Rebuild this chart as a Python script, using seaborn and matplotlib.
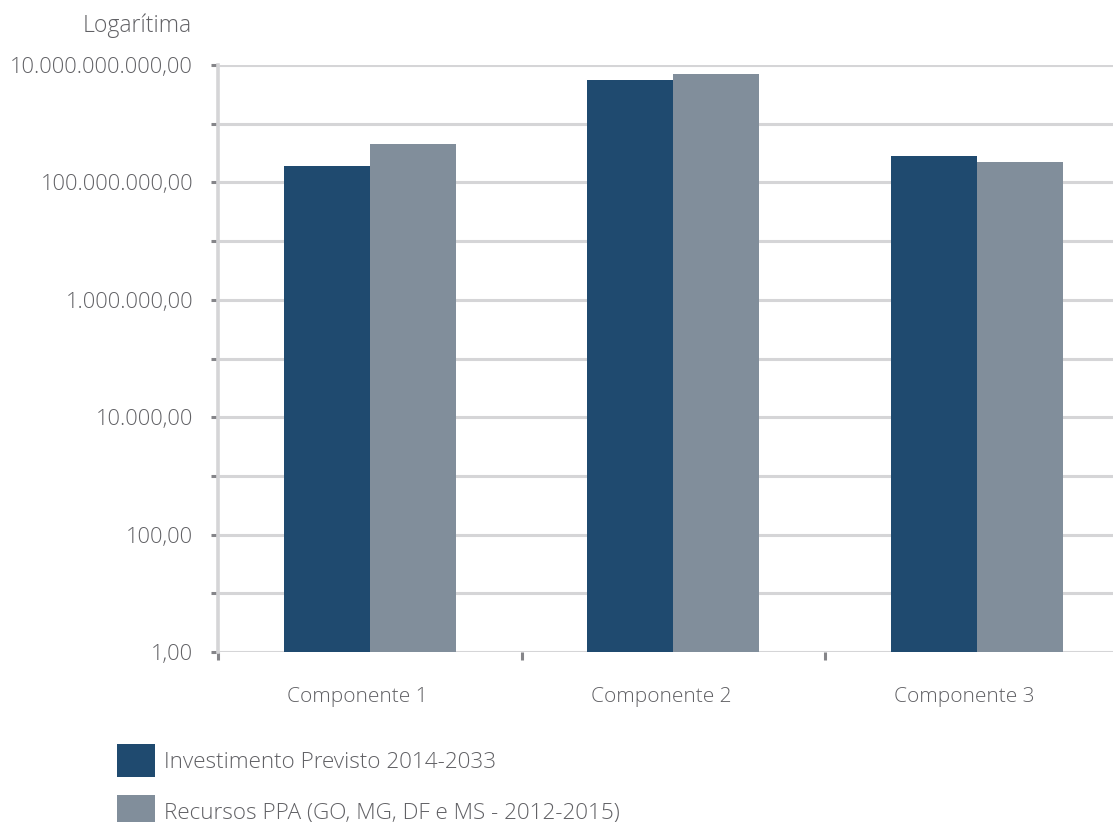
import pandas as pd
import matplotlib.pyplot as plt
import matplotlib.ticker as mticker
import matplotlib.transforms as mtransforms
import seaborn as sns

# Data (log scale)
componentes = ['Componente 1', 'Componente 2', 'Componente 3']
investimento = [1.9e8, 5.5e9, 2.8e8]
recursos_ppa = [4.5e8, 7.0e9, 2.2e8]
series_names = ['Investimento Previsto 2014-2033',
                'Recursos PPA (GO, MG, DF e MS - 2012-2015)']
y_ticks = [10 ** k for k in range(0, 11)]
y_tick_labels = ['1,00', '', '100,00', '', '10.000,00', '', '1.000.000,00', '',
                 '100.000.000,00', '', '10.000.000.000,00']

df = pd.DataFrame({
    'componente': componentes * 2,
    'valor': investimento + recursos_ppa,
    'serie': [series_names[0]] * 3 + [series_names[1]] * 3,
})

sns.set_theme(style='white')
plt.rcParams['font.family'] = ['Open Sans', 'DejaVu Sans']
plt.rcParams['font.weight'] = 'light'
text_color = '#616165'
grid_color = '#d5d5d7'

fig = plt.figure(figsize=(11.13, 8.22), dpi=100)
ax = fig.add_axes([218 / 1113, 1 - 652 / 822, (1113 - 218) / 1113, (652 - 65) / 822])

sns.barplot(data=df, x='componente', y='valor', hue='serie', hue_order=series_names,
            palette=['#1f4a6f', '#818e9b'], width=0.567, gap=0, saturation=1,
            linewidth=0, ax=ax)
ax.set_yscale('log')

ax.set_ylim(1, 1e10)
ax.set_xlim(-0.5, -0.5 + (1113 - 218) / 303.5)
ax.set_xlabel('')
ax.set_ylabel('')

# y axis: gridlines every decade, labels every second one
ax.yaxis.set_major_locator(mticker.FixedLocator(y_ticks))
ax.yaxis.set_major_formatter(mticker.FixedFormatter(y_tick_labels))
ax.yaxis.set_minor_locator(mticker.NullLocator())
ax.yaxis.grid(True, color=grid_color, linewidth=2.2)
ax.set_axisbelow(True)
ax.tick_params(axis='y', which='major', left=True, length=5, width=2.2,
               color='#858589', pad=13, labelsize=15.7, labelcolor=text_color)

# x axis: labels at centres, tick marks on category boundaries
ax.set_xticks(range(len(componentes)))
ax.set_xticklabels(componentes)
ax.set_xticks([-0.5, 0.5, 1.5], minor=True)
ax.tick_params(axis='x', which='major', bottom=True, length=0, pad=25,
               labelsize=15, labelcolor=text_color)
ax.tick_params(axis='x', which='minor', bottom=True, length=6, width=2.2,
               color='#858589')
shift = mtransforms.ScaledTranslation(-12 / 100, 0, fig.dpi_scale_trans)
for lbl in ax.get_xticklabels():
    lbl.set_transform(lbl.get_transform() + shift)

for side in ['top', 'right', 'bottom']:
    ax.spines[side].set_visible(False)
ax.spines['left'].set_color(grid_color)
ax.spines['left'].set_linewidth(2.6)

sns.move_legend(ax, 'upper left', bbox_to_anchor=(117 / 1113, 1 - 744 / 822),
                bbox_transform=fig.transFigure, frameon=False, title=None,
                fontsize=16.2, handlelength=1.7, handleheight=1.85,
                handletextpad=0.4, labelspacing=0.8, borderpad=0,
                borderaxespad=0, labelcolor=text_color)

fig.text(192 / 1113, 1 - 32 / 822, 'Logarítima', ha='right', va='baseline',
         fontsize=16.6, color=text_color)

fig.savefig('out.png', dpi=100)
